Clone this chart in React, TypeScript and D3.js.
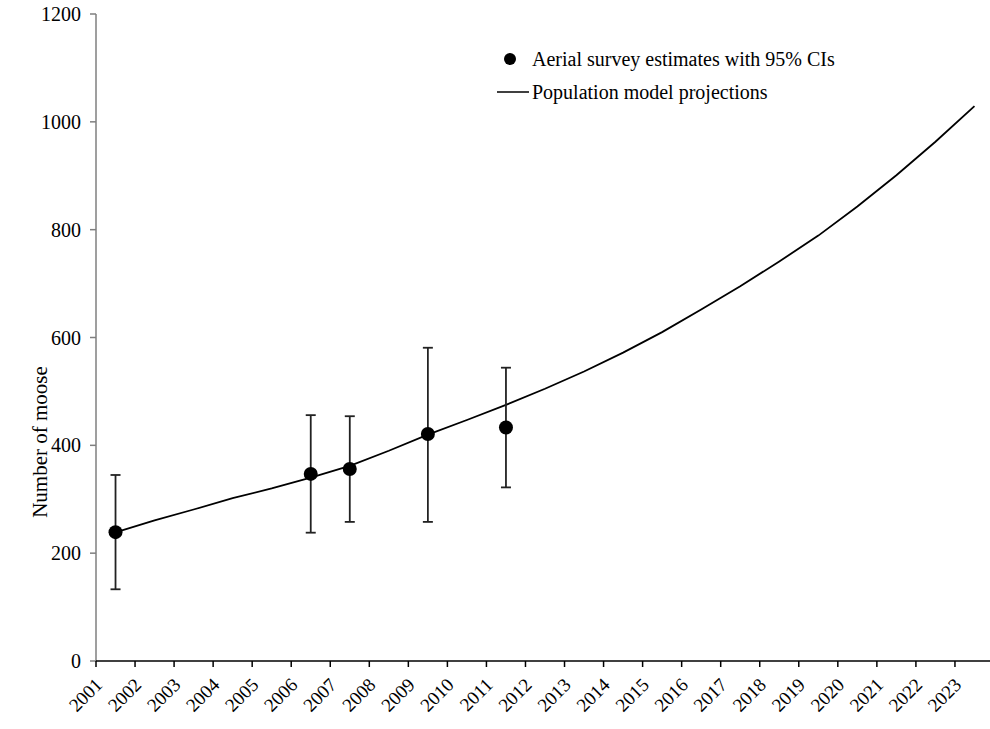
import React from "react";
import * as d3 from "d3";

const years = d3.range(2001, 2024).map(String);
const modelValues = [238.6, 261, 281, 302, 320, 340, 362, 390, 420, 447, 475, 505, 537, 572, 610, 652, 695, 741, 789, 843, 901, 963, 1029];
const surveyYears = ["2001", "2006", "2007", "2009", "2011"];
const surveyValues = [239, 347, 356, 421, 433];
const surveyLower = [133, 238, 258, 258, 322];
const surveyUpper = [345, 456, 454, 581, 544];
const yTicks = [0, 200, 400, 600, 800, 1000, 1200];

const W = 990, H = 729;
const left = 96, top = 14, bottom = 661, right = 994;
const FONT = "'Liberation Serif', 'Times New Roman', serif";

export default function App() {
  const x = d3.scaleBand().domain(years).range([left, right]).padding(0);
  const y = d3.scaleLinear().domain([0, 1200]).range([bottom, top]);
  const cx = (yr: string) => (x(yr) as number) + x.bandwidth() / 2;
  const line = d3.line<number>().x((_, i) => cx(years[i])).y((v) => y(v));
  const boundaries = years.map((yr) => x(yr) as number);

  return (
    <svg width={W} height={H} style={{ position: "absolute", left: 0, top: 0, background: "#fff" }} fontFamily={FONT}>
      {/* y axis */}
      <line x1={left} x2={left} y1={top} y2={bottom} stroke="#7f7f7f" strokeWidth={1.5} />
      {yTicks.map((t) => (
        <g key={t}>
          <line x1={left - 6} x2={left} y1={y(t)} y2={y(t)} stroke="#7f7f7f" strokeWidth={1.5} />
          <text x={81} y={y(t)} dy="0.35em" textAnchor="end" fontSize={20} fill="#000">{t}</text>
        </g>
      ))}
      <text transform={`translate(47,442) rotate(-90)`} textAnchor="middle" fontSize={21} fill="#000">Number of moose</text>
      {/* x axis */}
      <line x1={left} x2={right} y1={bottom} y2={bottom} stroke="#000" strokeWidth={1.5} />
      {boundaries.map((b, i) => (
        <line key={i} x1={b} x2={b} y1={bottom} y2={bottom + 6} stroke="#000" strokeWidth={1.5} />
      ))}
      {years.map((yr) => (
        <text key={yr} transform={`translate(${cx(yr) - 12},686) rotate(-45)`} textAnchor="end" fontSize={19} fill="#000">{yr}</text>
      ))}
      {/* model line */}
      <path d={line(modelValues) || ""} fill="none" stroke="#000" strokeWidth={1.8} />
      {/* error bars */}
      {surveyYears.map((yr, i) => (
        <g key={yr} stroke="#222" strokeWidth={1.8}>
          <line x1={cx(yr)} x2={cx(yr)} y1={y(surveyLower[i])} y2={y(surveyUpper[i])} />
          <line x1={cx(yr) - 5} x2={cx(yr) + 5} y1={y(surveyLower[i])} y2={y(surveyLower[i])} />
          <line x1={cx(yr) - 5} x2={cx(yr) + 5} y1={y(surveyUpper[i])} y2={y(surveyUpper[i])} />
        </g>
      ))}
      {surveyYears.map((yr, i) => (
        <circle key={yr} cx={cx(yr)} cy={y(surveyValues[i])} r={7} fill="#000" />
      ))}
      {/* legend */}
      <circle cx={510} cy={59} r={6} fill="#000" />
      <text x={532} y={66} fontSize={20} fill="#000">Aerial survey estimates with 95% CIs</text>
      <line x1={497} x2={529} y1={92} y2={92} stroke="#000" strokeWidth={1.5} />
      <text x={532} y={99} fontSize={20} fill="#000">Population model projections</text>
    </svg>
  );
}
